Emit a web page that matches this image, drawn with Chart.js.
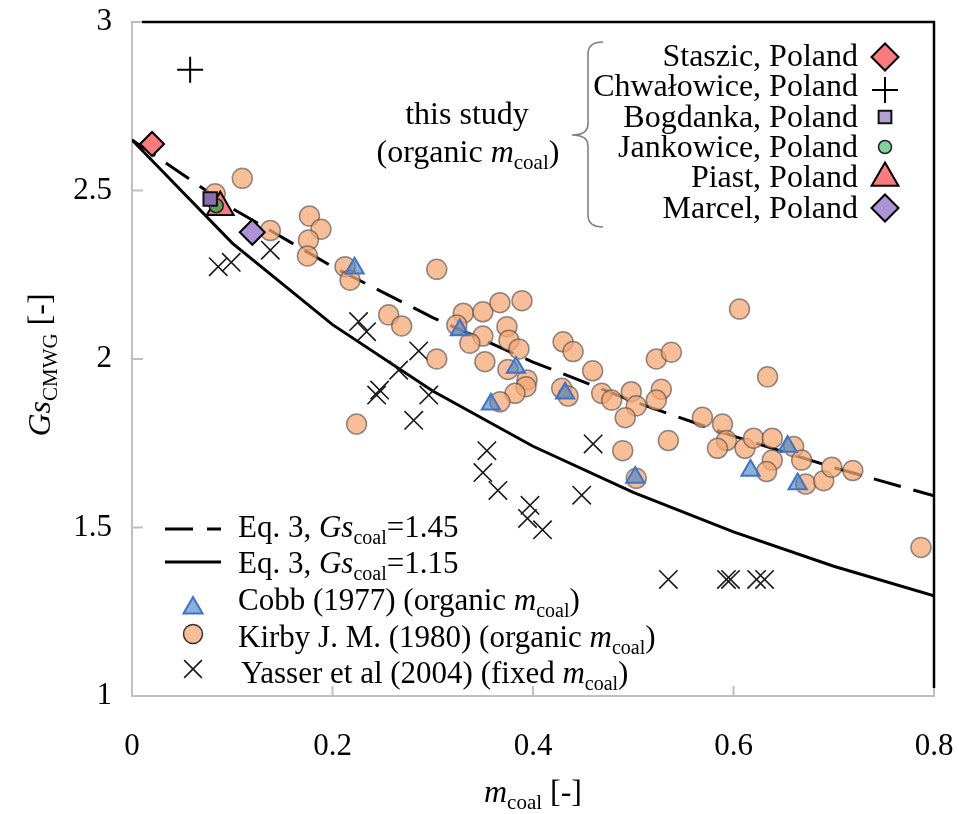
<!DOCTYPE html>
<html><head><meta charset="utf-8">
<script src="https://cdn.jsdelivr.net/npm/chart.js@4.4.0/dist/chart.umd.min.js"></script>
<style>html,body{margin:0;padding:0;background:#fff}#wrap{width:959px;height:814px;position:relative}</style>
</head><body><div id="wrap"><canvas id="c" width="959" height="814"></canvas></div>
<script>
const FF = '"Liberation Serif","Times New Roman",serif';
const xTicks = [0, 0.2, 0.4, 0.6, 0.8];
const xTickLabels = ['0', '0.2', '0.4', '0.6', '0.8'];
const yTicks = [1, 1.5, 2, 2.5, 3];
const yTickLabels = ['1', '1.5', '2', '2.5', '3'];

// Eq. 3 curves, read at m_coal = 0, 0.1, ..., 0.8
const eqX = [0, 0.1, 0.2, 0.3, 0.4, 0.5, 0.6, 0.7, 0.8];
const eqGs145 = [2.65, 2.447, 2.274, 2.123, 1.991, 1.874, 1.771, 1.678, 1.594];
const eqGs115 = [2.65, 2.344, 2.102, 1.905, 1.741, 1.604, 1.487, 1.385, 1.297];

// this study
const staszic = [[0.020, 2.638]];
const chwalowice = [[0.058, 2.858]];
const bogdanka = [[0.078, 2.475]];
const jankowice = [[0.084, 2.455]];
const piast = [[0.088, 2.45]];
const marcel = [[0.120, 2.376]];

// Cobb (1977)
const cobb = [[0.222, 2.269], [0.327, 2.086], [0.383, 1.975], [0.358, 1.866], [0.432, 1.898],
  [0.502, 1.648], [0.617, 1.669], [0.654, 1.740], [0.664, 1.629]];

// Kirby J. M. (1980)
const kirby = [[0.083, 2.49], [0.110, 2.536], [0.138, 2.381], [0.177, 2.424], [0.1885, 2.385],
  [0.176, 2.353], [0.175, 2.306], [0.2125, 2.274], [0.2175, 2.234], [0.256, 2.131],
  [0.269, 2.098], [0.224, 1.807], [0.304, 2.266], [0.3305, 2.136], [0.324, 2.101],
  [0.350, 2.140], [0.367, 2.167], [0.389, 2.173], [0.350, 2.068], [0.337, 2.047],
  [0.374, 2.096], [0.376, 2.056], [0.386, 2.030], [0.304, 2.000], [0.352, 1.992],
  [0.375, 1.969], [0.394, 1.938], [0.393, 1.918], [0.382, 1.898], [0.367, 1.873],
  [0.430, 2.051], [0.440, 2.022], [0.4595, 1.965], [0.4286, 1.913], [0.435, 1.890],
  [0.4685, 1.898], [0.4785, 1.878], [0.498, 1.903], [0.503, 1.861], [0.492, 1.826],
  [0.4895, 1.728], [0.503, 1.646], [0.523, 2.000], [0.538, 2.020], [0.528, 1.910],
  [0.523, 1.878], [0.535, 1.758], [0.606, 2.148], [0.634, 1.947], [0.569, 1.827],
  [0.589, 1.807], [0.593, 1.758], [0.584, 1.735], [0.6115, 1.735], [0.620, 1.765],
  [0.6387, 1.765], [0.660, 1.740], [0.668, 1.700], [0.6387, 1.700], [0.633, 1.666],
  [0.672, 1.629], [0.690, 1.639], [0.698, 1.679], [0.719, 1.669], [0.787, 1.441]];

// Yasser et al (2004)
const yasser = [[0.086, 2.274], [0.099, 2.287], [0.138, 2.323], [0.226, 2.111], [0.234, 2.081],
  [0.247, 1.908], [0.244, 1.893], [0.286, 2.024], [0.266, 1.967], [0.296, 1.893],
  [0.281, 1.818], [0.354, 1.728], [0.350, 1.663], [0.365, 1.610], [0.397, 1.566],
  [0.3945, 1.527], [0.4095, 1.493], [0.4486, 1.596], [0.460, 1.748], [0.535, 1.346],
  [0.593, 1.346], [0.597, 1.346], [0.623, 1.346], [0.631, 1.346]];

const toXY = a => a.map(([x, y]) => ({x, y}));
const curve = ys => eqX.map((x, i) => ({x, y: ys[i]}));

const styles = {
  staszic:   {pointStyle: 'rectRot', radius: 12, bg: '#FA7A7D', bc: '#000', bw: 2},
  chwal:     {pointStyle: 'cross', radius: 13, bg: '#000', bc: '#000', bw: 2},
  bogdanka:  {pointStyle: 'rect', radius: 9.5, bg: '#8A6CB0', bc: '#111', bw: 2},
  jankowice: {pointStyle: 'circle', radius: 7, bg: '#5E9E55', bc: '#222', bw: 1.5},
  piast:     {pointStyle: 'triangle', radius: 15.5, bg: '#FA7A7D', bc: '#000', bw: 2},
  marcel:    {pointStyle: 'rectRot', radius: 12.5, bg: '#AE92D6', bc: '#000', bw: 2},
  cobb:      {pointStyle: 'triangle', radius: 10.5, bg: 'rgba(60,130,200,0.62)', bc: '#4472C4', bw: 2},
  kirby:     {pointStyle: 'circle', radius: 10, bg: 'rgba(244,168,118,0.75)', bc: 'rgba(70,70,70,0.6)', bw: 1.5},
  yasser:    {pointStyle: 'crossRot', radius: 13, bg: '#000', bc: '#1a1a1a', bw: 1.6}
};
function pds(data, s, order) {
  return {data: toXY(data), pointStyle: s.pointStyle, pointRadius: s.radius, pointHoverRadius: s.radius,
    backgroundColor: s.bg, borderColor: s.bc, pointBorderWidth: s.bw, borderWidth: s.bw, showLine: false, order};
}

const datasets = [
  pds(bogdanka, styles.bogdanka, 1),
  pds(jankowice, styles.jankowice, 2),
  pds(piast, styles.piast, 3),
  pds(staszic, styles.staszic, 4),
  pds(marcel, styles.marcel, 5),
  pds(chwalowice, styles.chwal, 6),
  pds(cobb, styles.cobb, 7),
  pds(kirby, styles.kirby, 8),
  pds(yasser, styles.yasser, 9),
  {data: curve(eqGs145), showLine: true, borderColor: '#000', borderWidth: 3, borderDash: [28, 13],
   pointRadius: 0, fill: false, tension: 0, order: 10},
  {data: curve(eqGs115), showLine: true, borderColor: '#000', borderWidth: 3,
   pointRadius: 0, fill: false, tension: 0, order: 11}
];

function drawMarker(ctx, s, x, y, r) {
  ctx.save();
  ctx.fillStyle = s.bg; ctx.strokeStyle = s.bc; ctx.lineWidth = s.bw;
  ctx.beginPath();
  const st = s.pointStyle;
  if (st === 'circle') { ctx.arc(x, y, r, 0, Math.PI * 2); ctx.fill(); ctx.stroke(); }
  else if (st === 'triangle') {
    for (let i = 0; i < 3; i++) {
      const a = -Math.PI / 2 + i * 2 * Math.PI / 3;
      const px = x + Math.cos(a) * r, py = y + Math.sin(a) * r;
      i ? ctx.lineTo(px, py) : ctx.moveTo(px, py);
    }
    ctx.closePath(); ctx.fill(); ctx.stroke();
  } else if (st === 'rect') {
    const h = r * Math.SQRT1_2; ctx.rect(x - h, y - h, 2 * h, 2 * h); ctx.fill(); ctx.stroke();
  } else if (st === 'rectRot') {
    ctx.moveTo(x, y - r); ctx.lineTo(x + r, y); ctx.lineTo(x, y + r); ctx.lineTo(x - r, y); ctx.closePath(); ctx.fill(); ctx.stroke();
  } else if (st === 'cross') {
    ctx.moveTo(x - r, y); ctx.lineTo(x + r, y); ctx.moveTo(x, y - r); ctx.lineTo(x, y + r); ctx.stroke();
  } else if (st === 'crossRot') {
    const h = r * Math.SQRT1_2;
    ctx.moveTo(x - h, y - h); ctx.lineTo(x + h, y + h); ctx.moveTo(x + h, y - h); ctx.lineTo(x - h, y + h); ctx.stroke();
  }
  ctx.restore();
}

function richParts(ctx, parts, size) {
  const sub = Math.round(size * 0.66);
  return parts.map(([t, st]) => {
    const font = st === 'i' ? `italic ${size}px ${FF}` : st === 's' ? `${sub}px ${FF}` : `${size}px ${FF}`;
    ctx.font = font;
    return {t, font, w: ctx.measureText(t).width, dy: st === 's' ? size * 0.22 : 0};
  });
}
function drawRich(ctx, parts, x, y, size, align) {
  const ps = richParts(ctx, parts, size);
  const total = ps.reduce((a, p) => a + p.w, 0);
  let cx = align === 'center' ? x - total / 2 : align === 'right' ? x - total : x;
  ctx.textBaseline = 'alphabetic'; ctx.textAlign = 'left'; ctx.fillStyle = '#000';
  for (const p of ps) { ctx.font = p.font; ctx.fillText(p.t, cx, y + p.dy); cx += p.w; }
}

const studyLegend = [
  ['Staszic, Poland', styles.staszic, 13.5, 57],
  ['Chwałowice, Poland', styles.chwal, 13, 90],
  ['Bogdanka, Poland', {...styles.bogdanka, bg: '#B3A0D2'}, 9, 117],
  ['Jankowice, Poland', {...styles.jankowice, bg: '#7FD3A0'}, 6.5, 147],
  ['Piast, Poland', styles.piast, 15.5, 178],
  ['Marcel, Poland', styles.marcel, 13.5, 208]
];
const studyBaselines = [65.5, 96, 126.5, 157, 187, 217.5];

const decor = {
  id: 'decor',
  beforeDatasetsDraw(chart) {
    const {ctx, chartArea: ca, scales: {x: sx, y: sy}} = chart;
    ctx.save();
    ctx.strokeStyle = '#bfbfbf'; ctx.lineWidth = 2;
    ctx.beginPath();
    yTicks.forEach(v => { if (v === yTicks[0]) return; const py = sy.getPixelForValue(v); ctx.moveTo(ca.left, py); ctx.lineTo(ca.left + 11, py); });
    xTicks.forEach(v => { if (v === xTicks[0]) return; const px = sx.getPixelForValue(v); ctx.moveTo(px, ca.bottom); ctx.lineTo(px, ca.bottom - 10); });
    ctx.stroke();
    ctx.restore();
  },
  afterDraw(chart) {
    const {ctx, chartArea: ca} = chart;
    ctx.save();
    // frame (top + right)
    ctx.strokeStyle = '#000'; ctx.lineWidth = 2.5;
    ctx.beginPath(); ctx.moveTo(ca.left + 10, ca.top); ctx.lineTo(ca.right, ca.top); ctx.lineTo(ca.right, ca.bottom - 8); ctx.stroke();

    // axis titles
    drawRich(ctx, [['m', 'i'], ['coal', 's'], [' [-]', 'n']], 533, 802, 32, 'center');
    ctx.save(); ctx.translate(0, 365); ctx.rotate(-Math.PI / 2);
    drawRich(ctx, [['Gs', 'i'], ['CMWG', 's'], [' [-]', 'n']], 0, 50, 32, 'center');
    ctx.restore();

    // this-study legend
    studyLegend.forEach(([label, s, r, my], i) => {
      drawRich(ctx, [[label, 'n']], 858, studyBaselines[i], 32, 'right');
      drawMarker(ctx, s, 885, my, r);
    });
    drawRich(ctx, [['this study', 'n']], 467, 124, 32, 'center');
    drawRich(ctx, [['(organic ', 'n'], ['m', 'i'], ['coal', 's'], [')', 'n']], 468, 162, 32, 'center');
    // brace
    ctx.strokeStyle = '#7f7f7f'; ctx.lineWidth = 1.6;
    ctx.beginPath();
    ctx.moveTo(603, 42); ctx.quadraticCurveTo(588, 42, 588, 54);
    ctx.lineTo(588, 124); ctx.quadraticCurveTo(588, 135, 572, 135);
    ctx.quadraticCurveTo(588, 135, 588, 146);
    ctx.lineTo(588, 215); ctx.quadraticCurveTo(588, 227, 603, 227);
    ctx.stroke();

    // bottom-left legend
    ctx.strokeStyle = '#000'; ctx.lineWidth = 3;
    ctx.setLineDash([28, 14]);
    ctx.beginPath(); ctx.moveTo(165, 529); ctx.lineTo(221, 529); ctx.stroke();
    ctx.setLineDash([]);
    ctx.beginPath(); ctx.moveTo(165, 562); ctx.lineTo(221, 562); ctx.stroke();
    drawRich(ctx, [['Eq. 3, ', 'n'], ['Gs', 'i'], ['coal', 's'], ['=1.45', 'n']], 238, 537, 31, 'left');
    drawRich(ctx, [['Eq. 3, ', 'n'], ['Gs', 'i'], ['coal', 's'], ['=1.15', 'n']], 238, 573, 31, 'left');
    drawMarker(ctx, styles.cobb, 193, 608, 11);
    drawRich(ctx, [['Cobb (1977) (organic ', 'n'], ['m', 'i'], ['coal', 's'], [')', 'n']], 238, 610, 31, 'left');
    drawMarker(ctx, {...styles.kirby, bc: '#333'}, 193, 634, 9.5);
    drawRich(ctx, [['Kirby J. M. (1980) (organic ', 'n'], ['m', 'i'], ['coal', 's'], [')', 'n']], 238, 647, 31, 'left');
    drawMarker(ctx, styles.yasser, 193, 669, 12.5);
    drawRich(ctx, [['Yasser et al (2004) (fixed ', 'n'], ['m', 'i'], ['coal', 's'], [')', 'n']], 241, 683, 31, 'left');
    ctx.restore();
  }
};

const noPad = s => { s.paddingTop = 0; s.paddingBottom = 0; s.paddingLeft = 0; s.paddingRight = 0; };

new Chart(document.getElementById('c'), {
  type: 'scatter',
  data: {datasets},
  options: {
    responsive: false, animation: false, devicePixelRatio: 1,
    layout: {padding: {top: 22, right: 25, left: 0, bottom: 0}},
    plugins: {legend: {display: false}, tooltip: {enabled: false}},
    scales: {
      x: {
        type: 'linear', min: 0, max: 0.8,
        afterBuildTicks: s => { s.ticks = xTicks.map(v => ({value: v})); },
        afterFit: s => { s.height = 118; noPad(s); },
        ticks: {callback: v => xTickLabels[xTicks.indexOf(v)] ?? '', font: {family: FF, size: 31}, color: '#000', padding: 32, maxRotation: 0, autoSkip: false},
        grid: {display: true, drawOnChartArea: false, drawTicks: false},
        border: {display: true, color: '#bfbfbf', width: 2}
      },
      y: {
        type: 'linear', min: 1, max: 3,
        afterBuildTicks: s => { s.ticks = yTicks.map(v => ({value: v})); },
        afterFit: s => { s.width = 132; noPad(s); },
        ticks: {callback: v => yTickLabels[yTicks.indexOf(v)] ?? '', font: {family: FF, size: 31}, color: '#000', padding: 20, autoSkip: false},
        grid: {display: true, drawOnChartArea: false, drawTicks: false},
        border: {display: true, color: '#bfbfbf', width: 2}
      }
    }
  },
  plugins: [decor]
});
</script></body></html>
